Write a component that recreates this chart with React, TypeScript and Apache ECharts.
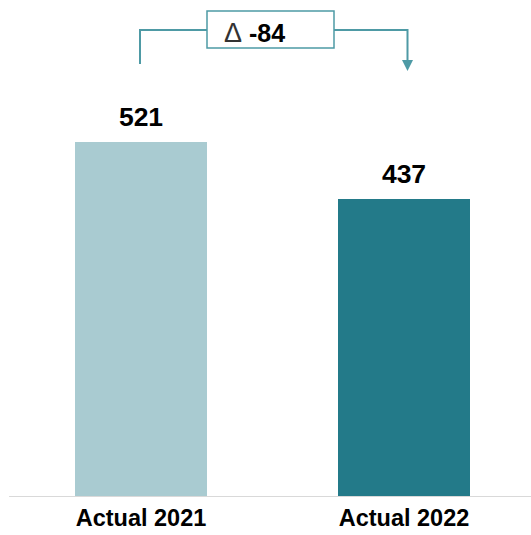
import React, { useEffect, useRef } from "react";
import * as echarts from "echarts";

const categories = ["Actual 2021", "Actual 2022"];
const values = [521, 437];
const barColors = ["#A9CBD1", "#237A89"];
const FONT = "'Liberation Sans', Arial, sans-serif";
const TEAL = "#4E9AA5";

export default function App() {
  const ref = useRef<HTMLDivElement>(null);
  useEffect(() => {
    if (!ref.current) return;
    const chart = echarts.init(ref.current, null, { renderer: "svg" });
    const option: any = {
      animation: false,
      grid: { left: 9.5, width: 526, top: 20.4, bottom: 39 },
      xAxis: {
        type: "category",
        data: categories,
        axisLine: { show: true, lineStyle: { color: "#D9D9D9", width: 1 } },
        axisTick: { show: false },
        axisLabel: {
          fontFamily: FONT,
          fontWeight: "bold",
          fontSize: 23.5,
          color: "#000",
          margin: 10,
        },
      },
      yAxis: {
        type: "value",
        min: 0,
        max: 700,
        show: false,
        splitLine: { show: false },
      },
      series: [
        {
          type: "bar",
          barWidth: 132,
          data: values.map((v, i) => ({ value: v, itemStyle: { color: barColors[i] } })),
          label: {
            show: true,
            position: "top",
            distance: 12,
            fontFamily: FONT,
            fontWeight: "bold",
            fontSize: 26.5,
            color: "#000",
          },
        },
      ],
    };
    chart.setOption(option);

    const p1 = chart.convertToPixel({ seriesIndex: 0 }, [0, values[0]]) as number[];
    const p2 = chart.convertToPixel({ seriesIndex: 0 }, [1, values[1]]) as number[];
    const leftX = p1[0] - 1;
    const rightX = p2[0] + 3.5;
    const topY = 30;
    const boxL = 207;
    const boxR = 334;
    const delta = values[1] - values[0];
    chart.setOption({
      graphic: [
        {
          type: "polyline",
          shape: { points: [[leftX, 64], [leftX, topY], [boxL, topY]] },
          style: { stroke: TEAL, lineWidth: 2, fill: null },
        },
        {
          type: "polyline",
          shape: { points: [[boxR, topY], [rightX, topY], [rightX, 61]] },
          style: { stroke: TEAL, lineWidth: 2, fill: null },
        },
        {
          type: "polygon",
          shape: { points: [[rightX - 5.5, 60], [rightX + 5.5, 60], [rightX, 71]] },
          style: { fill: TEAL },
        },
        {
          type: "rect",
          shape: { x: boxL, y: 11, width: boxR - boxL, height: 37 },
          style: { fill: "#fff", stroke: TEAL, lineWidth: 1.5 },
        },
        {
          type: "text",
          x: 224,
          y: 33,
          style: {
            text: "Δ",
            verticalAlign: "middle",
            align: "left",
            fontFamily: FONT,
            fontSize: 27,
            fontWeight: "normal",
            fill: "#333",
          },
        },
        {
          type: "text",
          x: 249,
          y: 33,
          style: {
            text: String(delta),
            verticalAlign: "middle",
            align: "left",
            fontFamily: FONT,
            fontSize: 25,
            fontWeight: "bold",
            fill: "#000",
          },
        },
      ],
    });
    return () => chart.dispose();
  }, []);
  return (
    <div style={{ position: "absolute", left: 0, top: 0, width: 531, height: 535, overflow: "hidden" }}>
      <div ref={ref} style={{ width: 545, height: 535 }} />
    </div>
  );
}
